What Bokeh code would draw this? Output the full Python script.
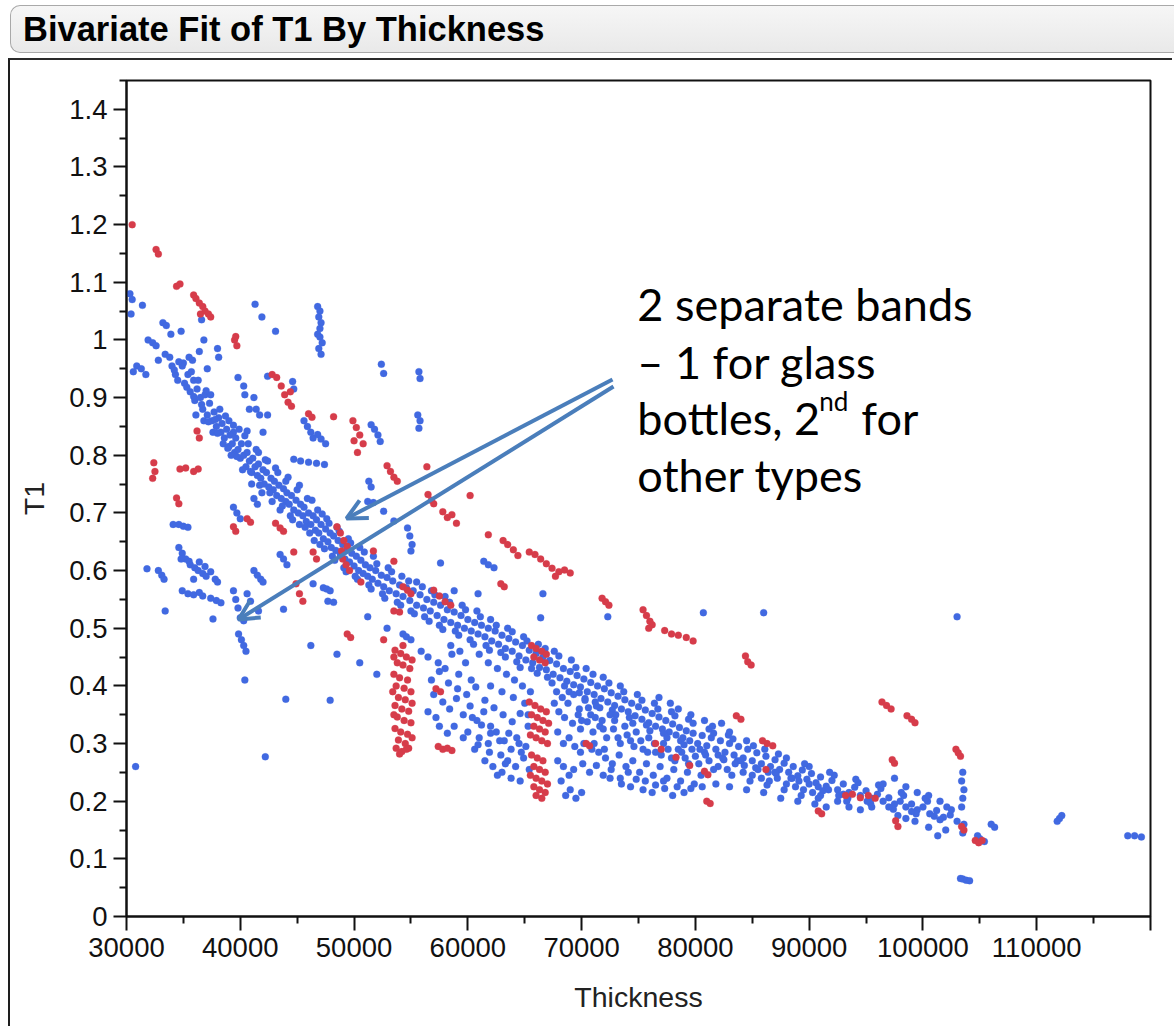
from bokeh.plotting import figure
from bokeh.models import Range1d, FixedTicker, Arrow, OpenHead, Div, Label, NumeralTickFormatter
from bokeh.layouts import column
from bokeh.embed import file_html
from bokeh.resources import INLINE

# ---------------- data (Thickness in thousands, T1) ----------------
blue_upper_left = [(30.3,1.08),(30.5,1.07),(31.4,1.06),(30.4,1.045),(31.9,1.0),(32.3,0.995),(32.6,0.99),(33.2,1.03),
    (33.5,1.025),(33.9,1.01),(34.8,1.015),(33.4,0.975),(33.8,0.97),(34.0,0.955),(34.3,0.94),(30.6,0.945),(30.9,0.955),
    (31.3,0.95),(31.7,0.94),(32.8,0.965),(35.5,0.97),(36.6,1.035),(36.8,1.0),(36.4,0.98),(38.0,0.985),(38.1,0.97),
    (35.8,0.965),(37.1,0.95),(39.8,0.935),(40.3,0.92),(40.4,0.905),(41.2,0.90),(41.4,0.88),(40.8,0.88),(41.7,0.87),
    (42.4,0.87),(41.3,1.062),(41.9,1.04),(43.1,1.015),(42.4,0.937),(44.6,0.928),(44.7,0.915),(39.4,0.84),(40.6,0.842),(42.0,0.84)]

blue_vertical_47k = [(46.8,1.058),(47.0,1.05),(46.9,1.04),(47.1,1.03),(46.8,1.01),(47.0,1.005),(47.2,0.995),(46.9,0.985),
    (47.1,0.975),(47.0,1.02)]

blue_above_band = [(52.4,0.958),(52.6,0.942),(55.7,0.945),(55.8,0.933),(55.6,0.87),(55.8,0.86),(55.7,0.847),(45.6,0.86),
    (45.9,0.85),(46.2,0.84),(46.8,0.836),(47.1,0.828),(47.5,0.82),(46.4,0.83),(51.5,0.853),(51.8,0.845),(52.1,0.835),
    (52.3,0.824),(44.7,0.793),(45.3,0.79),(46.0,0.788),(46.7,0.786),(47.4,0.784),(51.3,0.755),(51.5,0.745),(51.2,0.72),
    (51.7,0.718),(52.6,0.703),(53.5,0.686),(54.7,0.674),(54.9,0.66),(55.1,0.645),(55.0,0.634),(57.6,0.613),(58.8,0.565),
    (60.9,0.56),(61.4,0.616),(61.8,0.61),(62.3,0.605)]

blue_left_lower = [(31.8,0.603),(32.8,0.6),(33.1,0.592),(33.3,0.585),(33.4,0.53),(34.1,0.68),(34.6,0.68),(35.0,0.677),
    (35.4,0.675),(34.6,0.64),(34.9,0.63),(35.2,0.62),(35.5,0.616),(34.8,0.62),(35.6,0.61),(36.0,0.605),(36.3,0.6),
    (36.7,0.595),(37.0,0.59),(37.4,0.598),(37.8,0.585),(38.0,0.58),(36.4,0.615),(36.9,0.607),(35.9,0.585),(34.9,0.565),
    (35.4,0.56),(35.9,0.558),(36.4,0.562),(36.7,0.556),(37.4,0.552),(37.9,0.548),(38.3,0.544),(37.6,0.516),(39.4,0.565),
    (39.6,0.55),(39.8,0.535),(40.0,0.518),(40.3,0.513),(39.85,0.49),(40.1,0.48),(40.3,0.47),(40.5,0.46),(41.2,0.6),
    (41.5,0.592),(41.8,0.585),(42.0,0.58),(40.6,0.56),(40.9,0.547),(41.6,0.53),(40.4,0.41),(42.2,0.277),(30.8,0.26),
    (39.4,0.71),(39.7,0.70),(40.0,0.69),(41.2,0.725),(41.5,0.715),(43.5,0.628),(43.8,0.62),(44.1,0.61),(47.3,0.57),
    (47.6,0.568),(47.9,0.565),(43.8,0.533),(46.4,0.577),(47.7,0.547),(48.2,0.545),(51.2,0.52),(52.9,0.50),(54.3,0.49),
    (54.6,0.485),(55.0,0.48),(44.0,0.377),(47.9,0.375)]

blue_main_band = [(34.2,0.948),(34.5,0.93),(34.9,0.955),(35.1,0.925),(35.4,0.94),(35.6,0.91),(35.9,0.93),(36.0,0.895),
    (36.2,0.915),(36.5,0.9),(36.7,0.88),(36.9,0.905),(37.1,0.87),(37.3,0.89),(37.5,0.86),(37.7,0.875),(37.9,0.85),
    (38.1,0.865),(38.3,0.84),(38.4,0.855),(38.6,0.83),(38.8,0.845),(39.0,0.815),(39.1,0.835),(39.3,0.82),(39.5,0.805),
    (39.6,0.83),(39.8,0.81),(40.0,0.795),(40.1,0.82),(40.3,0.8),(40.5,0.78),(40.6,0.805),(40.8,0.79),(41.0,0.77),
    (41.1,0.795),(41.3,0.78),(41.5,0.765),(41.6,0.785),(41.8,0.76),(42.0,0.775),(42.1,0.75),(42.3,0.77),(42.5,0.745),
    (42.7,0.76),(42.9,0.74),(43.0,0.755),(43.2,0.73),(43.4,0.748),(43.6,0.725),(43.8,0.742),(44.0,0.72),(44.1,0.735),
    (44.3,0.715),(44.5,0.73),(44.7,0.705),(44.9,0.722),(45.1,0.7),(45.3,0.715),(45.5,0.695),(45.6,0.71),(45.8,0.685),
    (46.0,0.7),(46.2,0.68),(46.4,0.695),(46.6,0.67),(46.7,0.688),(46.9,0.665),(47.1,0.68),(47.3,0.655),(47.5,0.672),
    (47.7,0.65),(47.9,0.665),(48.0,0.64),(48.2,0.66),(48.4,0.635),(48.6,0.652),(48.8,0.628),(49.0,0.645),(49.2,0.62),
    (49.4,0.638),(49.6,0.615),(49.8,0.63),(50.0,0.608),(50.2,0.625),(50.4,0.6),(50.6,0.618),(50.8,0.595),(51.0,0.61),
    (51.2,0.59),(51.4,0.605),(51.6,0.585),(51.9,0.6),(52.1,0.578),(52.4,0.592),(52.6,0.572),(52.9,0.588),(53.1,0.565),
    (53.4,0.582),(53.7,0.56),(54.0,0.575),(54.3,0.555),(54.6,0.57),(54.9,0.548),(55.2,0.565),(55.5,0.54),(55.8,0.558),
    (56.1,0.535),(56.4,0.55),(56.7,0.53),(57.0,0.545),(57.3,0.522),(57.6,0.54),(57.9,0.515),(58.2,0.532),(58.5,0.51),
    (58.8,0.528),(59.1,0.505),(59.4,0.522),(59.7,0.5),(60.0,0.515),(60.3,0.495),(60.6,0.51),(60.9,0.49),(61.2,0.505),
    (61.5,0.485),(61.8,0.5),(62.1,0.478),(62.4,0.495),(62.7,0.472),(63.0,0.488),(63.3,0.465),(63.6,0.482),(63.9,0.46),
    (64.2,0.476),(64.5,0.452),(64.8,0.47),(65.1,0.445),(65.4,0.462),(65.7,0.44),(66.0,0.456),(66.3,0.432),(66.6,0.45),
    (66.9,0.428),(67.2,0.444),(67.5,0.42),(67.8,0.438),(68.1,0.414),(68.4,0.43),(68.7,0.408),(69.0,0.425),(69.3,0.402),
    (69.6,0.418),(69.9,0.398),(70.2,0.412),(70.5,0.39),(70.8,0.406),(71.1,0.385),(71.4,0.4),(71.7,0.378),(72.0,0.395),
    (72.3,0.372),(72.6,0.388),(72.9,0.366),(73.2,0.382),(73.5,0.36),(73.8,0.376),(74.1,0.355),(74.4,0.37),(74.7,0.348),
    (75.0,0.364),(75.3,0.342),(75.6,0.358),(75.9,0.336),(76.2,0.352),(76.5,0.33),(76.8,0.346),(77.1,0.325),(77.4,0.34),
    (77.7,0.32),(78.0,0.334),(78.3,0.315),(78.6,0.328),(78.9,0.31),(79.2,0.322),(79.5,0.305),(79.8,0.318),(80.2,0.3),
    (80.6,0.314),(81.0,0.296),(81.4,0.31),(81.8,0.29),(82.2,0.305),(82.6,0.285),(83.0,0.3),(83.4,0.28),(83.8,0.295),
    (84.2,0.275),(84.6,0.29),(85.0,0.27),(85.4,0.284),(85.8,0.265),(86.2,0.278),(86.6,0.26),(87.0,0.272),(87.4,0.255),
    (87.8,0.266),(88.2,0.25),(88.6,0.26),(89.0,0.244),(89.4,0.254),(89.8,0.238),(90.2,0.248),(90.6,0.232),(91.0,0.242),
    (91.5,0.226),(92.0,0.236),(92.5,0.22),(93.0,0.23),(93.5,0.215),(94.0,0.224),(94.5,0.21),(95.0,0.218),(95.5,0.205),
    (96.0,0.212),(96.5,0.2),(97.0,0.206),(97.5,0.195),(98.0,0.2),(98.5,0.19),(99.0,0.195),(99.5,0.185),(100.0,0.19),
    (100.6,0.178),(101.2,0.184),(101.8,0.172),(102.4,0.176),(103.0,0.165)]

blue_band_edges = [(35.0,0.96),(35.7,0.945),(36.3,0.93),(36.1,0.87),(36.8,0.86),(37.4,0.905),(37.6,0.84),(38.2,0.88),
    (38.5,0.82),(39.0,0.86),(39.2,0.8),(39.9,0.845),(40.2,0.775),(40.7,0.82),(41.0,0.75),(41.6,0.805),(41.9,0.735),
    (42.4,0.79),(42.8,0.72),(43.3,0.77),(43.5,0.705),(44.0,0.755),(44.4,0.695),(45.0,0.74),(45.2,0.68),(45.9,0.725),
    (46.1,0.665),(46.8,0.705),(47.0,0.645),(47.6,0.69),(48.1,0.625),(48.5,0.675),(49.1,0.605),(49.5,0.655),(50.1,0.59),
    (50.5,0.64),(51.3,0.575),(51.7,0.625),(52.5,0.56),(53.0,0.605),(53.8,0.545),(54.2,0.59),(55.0,0.53),(55.5,0.58),
    (56.2,0.52),(56.8,0.565),(57.5,0.505),(58.0,0.555),(58.9,0.495),(59.5,0.54),(60.2,0.48),(60.8,0.53),(61.6,0.47),
    (62.0,0.515),(62.9,0.458),(63.5,0.5),(64.3,0.442),(64.9,0.485),(65.6,0.43),(66.2,0.472),(67.0,0.415),(67.6,0.46),
    (68.5,0.4),(69.1,0.445),(69.8,0.388),(70.4,0.43),(71.2,0.372),(71.9,0.415),(72.7,0.358),(73.4,0.4),(74.2,0.345),
    (74.9,0.385),(75.7,0.332),(76.4,0.37),(77.2,0.318),(77.9,0.355),(78.7,0.305),(79.4,0.342),(80.4,0.29),(81.2,0.325),
    (82.0,0.28),(82.9,0.315),(83.7,0.27),(84.5,0.305),(85.3,0.258),(86.1,0.29),(87.1,0.248),(88.0,0.275),(89.1,0.235),
    (90.0,0.26),(91.2,0.218),(92.2,0.245),(93.4,0.205),(94.3,0.232),(95.4,0.196),(96.3,0.222),(97.4,0.186),(98.3,0.21),
    (99.4,0.178),(100.4,0.2),(101.5,0.168),(102.5,0.185)]

blue_band_fill = [(34.6,0.962),(35.3,0.918),(35.9,0.902),(36.6,0.888),(37.0,0.912),(37.2,0.858),(37.8,0.862),
    (38.0,0.838),(38.7,0.868),(38.9,0.812),(39.4,0.852),(39.7,0.798),(40.4,0.834),(40.9,0.772),(41.4,0.81),(41.7,0.748),
    (42.2,0.792),(42.6,0.735),(43.1,0.778),(43.7,0.712),(44.2,0.762),(44.6,0.688),(45.2,0.748),(45.7,0.675),(46.3,0.722),
    (46.5,0.652),(47.2,0.698),(47.4,0.638),(47.8,0.682),(48.3,0.618),(48.7,0.668),(49.3,0.598),(49.7,0.648),(50.3,0.585),
    (50.9,0.632),(51.5,0.568),(52.0,0.612),(52.7,0.552),(53.3,0.598),(54.1,0.54),(54.8,0.582),(55.3,0.525),(56.0,0.572),
    (56.6,0.512),(57.1,0.558),(57.8,0.498),(58.4,0.545),(59.2,0.488),(59.8,0.532),(60.5,0.472),(61.1,0.52),(61.9,0.462),
    (62.5,0.505),(63.3,0.45),(63.9,0.494),(64.6,0.432),(65.2,0.478),(66.1,0.422),(66.8,0.465),(67.4,0.405),(68.0,0.452),
    (68.9,0.39),(69.5,0.432),(70.3,0.378),(71.0,0.42),(71.6,0.362),(72.4,0.405),(73.0,0.35),(73.7,0.39),(74.5,0.335),
    (75.3,0.375),(76.0,0.322),(76.7,0.36),(77.5,0.31),(78.2,0.348),(79.0,0.298),(79.8,0.335),(80.8,0.285),(81.6,0.318),
    (82.5,0.272),(83.3,0.308),(84.3,0.262),(85.1,0.296),(86.4,0.25),(87.3,0.282),(88.4,0.24),(89.6,0.265),(90.8,0.225),
    (91.8,0.25),(93.0,0.212),(94.1,0.238),(95.1,0.2),(96.1,0.228),(97.0,0.19),(98.1,0.215),(99.0,0.182),(100.2,0.205),
    (101.0,0.174),(102.1,0.19)]

blue_lower_cloud = [(46.2,0.47),(48.5,0.455),(50.5,0.44),(52.0,0.42),(55.9,0.46),(56.5,0.45),(57.4,0.44),(58.0,0.43),
    (58.6,0.455),(59.2,0.42),(59.8,0.44),(60.3,0.41),(57.0,0.385),(57.8,0.372),(58.4,0.36),(59.0,0.378),(59.6,0.35),
    (60.2,0.365),(60.8,0.34),(61.4,0.355),(62.0,0.33),(56.5,0.355),(57.2,0.345),(58.8,0.33),(60.0,0.32),(61.0,0.31),
    (61.8,0.3),(62.5,0.32),(63.2,0.305),(63.8,0.29),(64.5,0.3),(62.9,0.28),(63.5,0.27),(64.2,0.26),(64.9,0.275),
    (65.4,0.255),(63.0,0.25),(63.8,0.24),(64.6,0.235),(61.5,0.27),(62.2,0.26),(60.6,0.29),(58.5,0.47),(59.3,0.46),
    (61.0,0.455),(61.8,0.44),(62.6,0.43),(63.4,0.42),(64.1,0.41),(64.8,0.4),(65.5,0.39),(62.0,0.4),(63.0,0.39),
    (64.0,0.38),(65.0,0.37),
    (68.6,0.21),(69.0,0.22),(69.5,0.205),(70.0,0.215),(68.2,0.235),(68.9,0.245),
    (67.8,0.39),(68.3,0.38),(68.8,0.37),(69.3,0.385),(69.8,0.36),(70.3,0.375),(70.8,0.35),(71.3,0.365),(71.8,0.34),
    (68.0,0.355),(68.5,0.345),(69.2,0.335),(69.9,0.325),(70.5,0.338),(71.0,0.32),(71.6,0.33),(72.2,0.31),(72.8,0.325),
    (73.4,0.3),(74.0,0.315),(74.6,0.295),(75.2,0.305),(75.8,0.285),(76.4,0.3),(77.0,0.28),(77.6,0.29),(78.2,0.27),
    (78.8,0.285),(79.4,0.265),(80.0,0.278),
    (70.2,0.3),(70.9,0.29),(71.5,0.285),(72.1,0.275),(72.7,0.265),(73.3,0.28),(73.9,0.26),(74.5,0.27),(75.1,0.25),
    (75.7,0.265),(76.3,0.245),(76.9,0.26),(77.5,0.24),(78.1,0.255),(78.7,0.235),(79.3,0.25),(79.9,0.23),(80.5,0.245),
    (72.5,0.24),(73.5,0.23),(74.3,0.225),(75.4,0.22),(76.2,0.215),(77.3,0.222),(78.0,0.21),(79.0,0.215),
    (76.8,0.38),(77.8,0.37),(78.5,0.36),(79.6,0.35),(80.8,0.34),(81.5,0.33),(82.3,0.335),(83.0,0.32),
    (81.2,0.27),(82.0,0.26),(82.8,0.255),(83.5,0.265),(84.2,0.25),(85.0,0.245),(85.8,0.24),(86.5,0.235),(87.2,0.24),
    (88.0,0.23),(88.8,0.225),(89.5,0.22),(90.3,0.215),(91.0,0.21),(81.8,0.23),(83.0,0.225),(84.5,0.22),(86.0,0.215),
    (87.5,0.205),(89.0,0.2),(90.5,0.195),(91.5,0.19),(92.5,0.2),(93.5,0.19),(94.5,0.185),(95.5,0.19)]

blue_cloud_fill = [(56.8,0.41),(57.5,0.425),(58.3,0.405),(59.1,0.395),(59.9,0.385),(60.7,0.398),(61.5,0.375),
    (62.3,0.362),(63.1,0.35),(63.9,0.338),(64.6,0.352),(65.3,0.33),(60.4,0.345),(61.2,0.332),(62.0,0.318),(62.8,0.305),
    (63.6,0.318),(64.3,0.31),(65.1,0.295),(65.3,0.35),(64.7,0.285),(63.3,0.265),(62.6,0.245),(61.9,0.285),(60.9,0.298),
    (59.6,0.31),(58.2,0.318),(57.5,0.33),(67.6,0.37),(67.9,0.32),(68.4,0.3),(68.9,0.31),(69.4,0.295),(69.7,0.35),
    (70.0,0.34),(70.6,0.362),(71.2,0.345),(71.9,0.325),(72.5,0.35),(72.9,0.34),(73.2,0.31),(73.8,0.33),(74.3,0.305),
    (74.8,0.32),(75.4,0.29),(75.9,0.31),(76.5,0.285),(77.2,0.3),(77.9,0.275),(78.5,0.29),(79.1,0.275),(79.7,0.29),
    (80.3,0.265),(80.9,0.28),(81.6,0.255),(82.4,0.275),(83.2,0.245),(84.0,0.27),(84.8,0.235),(85.5,0.255),(86.3,0.228),
    (87.0,0.25),(87.8,0.22),(88.5,0.24),(89.3,0.21),(90.0,0.23),(90.8,0.205),(91.7,0.22),(92.6,0.21),(93.3,0.2),
    (69.3,0.255),(70.1,0.265),(70.7,0.25),(71.3,0.262),(71.9,0.245),(72.6,0.255),(73.4,0.24),(74.1,0.25),(74.8,0.238),
    (75.6,0.235),(76.5,0.228),(77.2,0.235),(78.4,0.225),(79.6,0.222),(80.6,0.225),(67.9,0.27),(68.4,0.26),(69.9,0.285),
    (71.1,0.3),(72.0,0.29)]

blue_right_scatter = [(86.0,0.527),(80.7,0.527),(72.3,0.52),(66.4,0.518),(66.6,0.56),(103.0,0.52),
    (103.5,0.25),(103.4,0.235),(103.6,0.22),(103.5,0.205),(103.4,0.19),(103.6,0.16),(103.5,0.145),
    (103.5,0.065),(103.8,0.063),(104.1,0.062),(103.3,0.066),(105.0,0.135),(105.4,0.13),(104.8,0.14),
    (106.0,0.16),(106.3,0.155),(112.0,0.17),(112.2,0.175),(111.8,0.165),(118.0,0.14),(118.6,0.14),(119.2,0.138),
    (97.8,0.175),(98.5,0.17),(99.3,0.165),(100.5,0.155),(101.3,0.14),(102.0,0.15),
    (96.5,0.23),(97.5,0.24),(98.5,0.225),(99.5,0.215),(100.5,0.21),(101.5,0.2)]

red_points = [(30.5,1.2),(32.6,1.157),(32.8,1.149),(34.4,1.093),(34.7,1.097),(35.9,1.078),(36.1,1.072),(36.4,1.064),
    (36.7,1.058),(36.9,1.05),(37.2,1.045),(37.4,1.04),(36.5,1.045),(39.5,1.0),(39.7,0.99),(39.6,1.006),
    (42.8,0.94),(43.2,0.935),(43.6,0.92),(43.9,0.905),(44.2,0.892),(44.5,0.885),(44.4,0.91),(46.0,0.872),(46.3,0.866),
    (48.2,0.867),(49.9,0.86),(50.2,0.848),(50.5,0.835),(50.8,0.82),(50.3,0.805),(50.0,0.825),
    (52.9,0.782),(53.2,0.772),(53.5,0.762),(53.8,0.755),(56.4,0.78),(56.5,0.732),(56.8,0.722),(57.0,0.716),(57.8,0.702),
    (58.2,0.692),(58.6,0.697),(59.0,0.682),(60.2,0.73),(61.8,0.662),(63.1,0.652),(63.5,0.645),(64.0,0.636),(64.4,0.626),
    (65.4,0.632),(65.9,0.628),(66.4,0.62),(66.9,0.612),(67.4,0.604),(68.0,0.598),(68.5,0.601),(69.0,0.596),(67.7,0.59),
    (71.8,0.552),(72.1,0.546),(72.4,0.54),(75.4,0.532),(75.7,0.522),(76.0,0.512),(76.2,0.506),(75.9,0.5),
    (77.3,0.496),(77.9,0.49),(78.5,0.488),(79.2,0.484),(79.8,0.478),(84.4,0.452),(84.6,0.442),(84.9,0.436),
    (96.4,0.372),(96.8,0.366),(97.2,0.36),(98.6,0.348),(99.0,0.342),(99.3,0.336),(83.6,0.348),(84.0,0.342),
    (85.9,0.305),(86.3,0.3),(86.8,0.296),(86.2,0.255),(97.3,0.272),(97.5,0.266),
    (93.2,0.21),(93.8,0.212),(94.5,0.206),(95.2,0.21),(95.8,0.205),(97.6,0.166),(97.8,0.156),
    (102.9,0.29),(103.1,0.284),(103.3,0.278),(103.4,0.156),(103.6,0.15),(104.6,0.132),(104.9,0.128),(105.2,0.132),
    (90.8,0.183),(91.1,0.178),(80.8,0.252),(81.1,0.246),(81.0,0.2),(81.3,0.196),
    (32.4,0.787),(32.5,0.772),(32.3,0.76),(34.7,0.776),(35.2,0.778),(35.9,0.772),(36.3,0.776),(34.4,0.726),(34.6,0.716),
    (40.6,0.69),(40.9,0.684),(39.4,0.676),(39.6,0.668),(43.1,0.682),(43.5,0.674),(43.8,0.668),(36.2,0.842),(36.4,0.83),
    (48.5,0.676),(48.8,0.665),(49.1,0.652),(49.4,0.642),(49.0,0.62),(49.3,0.61),(49.6,0.6),(48.9,0.634),
    (44.7,0.632),(46.4,0.632),(46.7,0.62),(51.7,0.634),(53.5,0.616),(44.9,0.577),(45.5,0.547),(45.2,0.56),(49.4,0.49),
    (49.7,0.484),(52.6,0.48),(53.5,0.53),(54.0,0.528),(54.3,0.572),(54.7,0.566),(55.0,0.56),(57.0,0.566),(57.5,0.556),
    (58.0,0.546),(58.5,0.54),(50.6,0.58),(62.9,0.577),(63.2,0.572),
    (57.2,0.395),(57.6,0.39),(57.4,0.295),(57.8,0.29),(58.2,0.292),(58.6,0.288),
    (76.5,0.3),(77.0,0.29),(78.3,0.276),(79.5,0.262),(70.4,0.3),(70.7,0.296)]

red_54k = [(53.6,0.462),(54.1,0.456),(54.6,0.45),(53.8,0.44),(54.3,0.436),(54.9,0.43),(53.5,0.42),(54.0,0.414),
    (54.7,0.41),(53.7,0.4),(54.4,0.396),(55.0,0.39),(53.9,0.38),(54.5,0.376),(53.6,0.366),(54.2,0.36),(54.8,0.356),
    (53.8,0.346),(54.4,0.34),(55.0,0.336),(53.6,0.326),(54.1,0.32),(54.7,0.316),(53.9,0.306),(54.5,0.3),(53.7,0.292),
    (54.2,0.286),(54.8,0.292),(54.0,0.282),(54.6,0.29),(53.5,0.45),(54.3,0.47),(55.1,0.445),(53.4,0.39),(55.1,0.37),
    (53.5,0.35),(55.1,0.31)]

red_66k = [(65.6,0.47),(66.0,0.465),(66.5,0.46),(66.9,0.455),(65.8,0.45),(66.3,0.445),(66.8,0.44),(65.4,0.372),
    (65.9,0.366),(66.4,0.36),(66.9,0.355),(65.6,0.35),(66.1,0.345),(66.6,0.34),(67.1,0.335),(65.8,0.33),(66.3,0.325),
    (66.8,0.32),(65.5,0.315),(66.0,0.31),(66.5,0.305),(67.0,0.3),(65.6,0.28),(66.1,0.275),(66.6,0.27),(65.8,0.26),
    (66.3,0.255),(66.8,0.25),(65.5,0.245),(66.0,0.24),(66.5,0.235),(67.0,0.23),(65.8,0.225),(66.3,0.22),(66.8,0.215),
    (66.0,0.21),(66.5,0.205)]

x_ticks = [30000, 40000, 50000, 60000, 70000, 80000, 90000, 100000, 110000, 120000]
x_minor = [35000, 45000, 55000, 65000, 75000, 85000, 95000, 105000, 115000]
y_ticks = [0, 0.1, 0.2, 0.3, 0.4, 0.5, 0.6, 0.7, 0.8, 0.9, 1, 1.1, 1.2, 1.3, 1.4]
y_minor = [0.05, 0.15, 0.25, 0.35, 0.45, 0.55, 0.65, 0.75, 0.85, 0.95, 1.05, 1.15, 1.25, 1.35, 1.45]

note_lines = ["2 separate bands", "\u2013 1 for glass", "bottles, 2", "other types"]

# ---------------- build ----------------
def unzip(groups):
    xs, ys = [], []
    for g in groups:
        for a, b in g:
            xs.append(a * 1000)
            ys.append(b)
    return xs, ys

bx, by = unzip([blue_upper_left, blue_vertical_47k, blue_above_band, blue_left_lower, blue_main_band,
                blue_band_edges, blue_band_fill, blue_lower_cloud, blue_cloud_fill, blue_right_scatter])
rx, ry = unzip([red_points, red_54k, red_66k])

TICK_FONT = "Liberation Sans"

p = figure(width=1164, height=968, x_range=Range1d(30000, 120000), y_range=Range1d(0, 1.45),
           output_backend="svg", toolbar_location=None, title=None,
           min_border_left=116, min_border_right=24, min_border_top=20, min_border_bottom=112,
           x_axis_label="Thickness", y_axis_label="T1")
p.margin = (0, 0, 0, 8)
p.styles = {"border-left": "2px solid #1e1e1e", "border-top": "2px solid #2a2a2a"}
p.background_fill_color = "white"
p.border_fill_color = "white"
p.outline_line_color = "#111111"
p.outline_line_width = 2
p.xgrid.visible = False
p.ygrid.visible = False

p.xaxis.ticker = FixedTicker(ticks=x_ticks, minor_ticks=x_minor)
p.yaxis.ticker = FixedTicker(ticks=y_ticks, minor_ticks=y_minor)
p.xaxis.formatter = NumeralTickFormatter(format="0")
p.yaxis.formatter = NumeralTickFormatter(format="0.[0]")
p.xaxis.major_label_overrides = {120000: ""}

for ax in (p.xaxis, p.yaxis):
    ax.axis_line_width = 2
    ax.axis_line_color = "#111111"
    ax.major_tick_line_width = 2
    ax.minor_tick_line_width = 2
    ax.major_tick_line_color = "#111111"
    ax.minor_tick_line_color = "#111111"
    ax.major_tick_in = 0
    ax.minor_tick_in = 0
    ax.minor_tick_out = 7
    ax.major_label_text_font = TICK_FONT
    ax.major_label_text_font_size = "27.5px"
    ax.major_label_text_color = "#111111"
    ax.axis_label_text_font = TICK_FONT
    ax.axis_label_text_font_size = "28.5px"
    ax.axis_label_text_font_style = "normal"
    ax.axis_label_text_color = "#222222"

p.xaxis.major_tick_out = 14
p.yaxis.major_tick_out = 13
p.xaxis.major_label_standoff = 7
p.yaxis.major_label_standoff = 6
p.xaxis.axis_label_standoff = 21
p.yaxis.axis_label_standoff = 16

p.scatter(bx, by, marker="circle", size=7, fill_color="#4169E1", line_color="#4169E1", line_alpha=0.5, line_width=0.5)
p.scatter(rx, ry, marker="circle", size=7, fill_color="#D63C4A", line_color="#D63C4A", line_alpha=0.5, line_width=0.5)

# annotation text
note_x = 74900
note_ys = [1.0615, 0.9626, 0.8638, 0.7649]
for txt, yy in zip(note_lines, note_ys):
    p.add_layout(Label(x=note_x, y=yy, text=txt, text_font="Lato", text_font_size="45px",
                       text_baseline="alphabetic", text_color="black"))
p.add_layout(Label(x=note_x, y=note_ys[2], x_offset=182, y_offset=17, text="nd", text_font="Lato",
                   text_font_size="26px", text_baseline="alphabetic", text_color="black"))
p.add_layout(Label(x=note_x, y=note_ys[2], x_offset=224, text="for", text_font="Lato",
                   text_font_size="45px", text_baseline="alphabetic", text_color="black"))

ARROW_C = "#4A7EBB"
for xs, ys, xe, ye in [(72715, 0.9314, 49336, 0.6903), (72803, 0.9193, 39844, 0.5151)]:
    p.add_layout(Arrow(x_start=xs, y_start=ys, x_end=xe, y_end=ye, line_color=ARROW_C, line_width=4,
                       end=OpenHead(size=20, line_color=ARROW_C, line_width=4)))

title_html = ('<div style="box-sizing:border-box;margin:5px 0 0 10px;width:1164px;height:48px;'
              'border:1px solid #a9a9a9;border-right:none;border-radius:10px 0 0 10px;'
              'background:linear-gradient(#f6f6f6,#e9e9e9);font-family:\'Liberation Sans\',Arial,sans-serif;'
              'font-weight:bold;font-size:34.5px;line-height:46px;padding-left:12px;color:#000;white-space:nowrap;">'
              'Bivariate Fit of T1 By Thickness</div>')
title_div = Div(text=title_html, width=1174, height=58, margin=(0, 0, 0, 0))

layout = column(title_div, p, spacing=0)
open("out.html", "w").write(file_html(layout, INLINE))
